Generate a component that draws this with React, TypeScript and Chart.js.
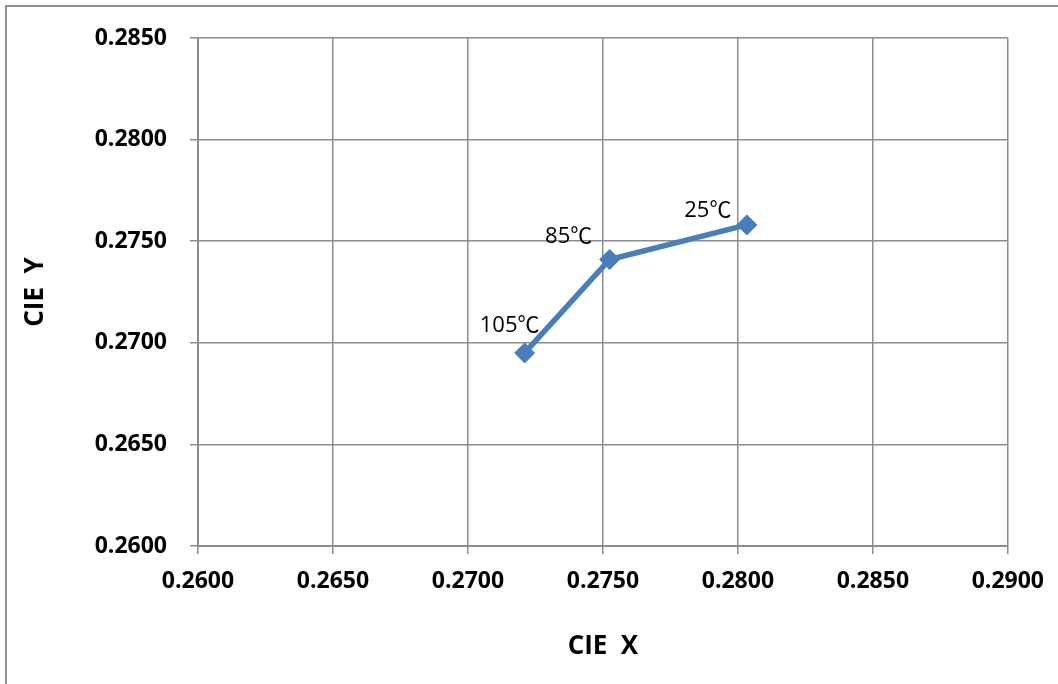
import React, { useEffect, useRef } from 'react';
import { Chart, registerables } from 'chart.js';

Chart.register(...registerables);

// ---- data ----
const TEMPERATURE_LABELS: string[] = ['105℃', '85℃', '25℃'];
const CIE_X_VALUES: number[] = [0.2721, 0.27525, 0.28033];
const CIE_Y_VALUES: number[] = [0.2695, 0.2741, 0.2758];
const X_TICKS: number[] = [0.26, 0.265, 0.27, 0.275, 0.28, 0.285, 0.29];
const Y_TICKS: number[] = [0.26, 0.265, 0.27, 0.275, 0.28, 0.285];
const X_TITLE = 'CIE  X';
const Y_TITLE = 'CIE  Y';

// label placement relative to each point (styling, in px)
const LABEL_OFFSETS: [number, number][] = [[-15, -27], [-41, -23], [-39, -14]];

const BLUE = '#4a7ebb';
const GRID = '#8c8c8c';
const FONT = '"Open Sans", "Noto Sans CJK SC", sans-serif';

const framePlugin = {
  id: 'frame',
  beforeDraw(chart: any) {
    const { ctx, width, height } = chart;
    ctx.save();
    ctx.fillStyle = '#ffffff';
    ctx.fillRect(0, 0, width, height);
    ctx.strokeStyle = '#8e8e8e';
    ctx.lineWidth = 2;
    ctx.beginPath();
    ctx.moveTo(6, height);
    ctx.lineTo(6, 6);
    ctx.lineTo(width, 6);
    ctx.stroke();
    ctx.restore();
  },
};

const labelPlugin = {
  id: 'pointLabels',
  afterDatasetsDraw(chart: any) {
    const { ctx } = chart;
    const meta = chart.getDatasetMeta(0);
    ctx.save();
    ctx.font = `22px ${FONT}`;
    ctx.fillStyle = '#000000';
    ctx.textAlign = 'center';
    ctx.textBaseline = 'middle';
    meta.data.forEach((pt: any, i: number) => {
      const [dx, dy] = LABEL_OFFSETS[i];
      ctx.fillText(TEMPERATURE_LABELS[i], pt.x + dx, pt.y + dy);
    });
    ctx.restore();
  },
};

export default function App() {
  const ref = useRef<HTMLCanvasElement | null>(null);

  useEffect(() => {
    document.body.style.margin = '0';
    const canvas = ref.current;
    if (!canvas) return;
    const chart = new Chart(canvas, {
      type: 'scatter',
      data: {
        datasets: [
          {
            label: 'CIE',
            data: CIE_X_VALUES.map((x, i) => ({ x, y: CIE_Y_VALUES[i] })),
            showLine: true,
            borderColor: BLUE,
            backgroundColor: BLUE,
            borderWidth: 5.5,
            pointStyle: 'rectRot',
            pointRadius: 10,
            pointBorderWidth: 1,
            pointBorderColor: BLUE,
            pointBackgroundColor: BLUE,
          },
        ],
      },
      options: {
        animation: false,
        responsive: true,
        maintainAspectRatio: false,
        layout: { padding: { left: 0, top: 38, right: 50, bottom: 0 } },
        plugins: {
          legend: { display: false },
          tooltip: { enabled: false },
        },
        scales: {
          x: {
            type: 'linear',
            min: X_TICKS[0],
            max: X_TICKS[X_TICKS.length - 1],
            afterBuildTicks: (scale: any) => {
              scale.ticks = X_TICKS.map((v) => ({ value: v }));
            },
            afterFit: (scale: any) => {
              scale.height = 138;
            },
            ticks: {
              color: '#000000',
              padding: 14,
              maxRotation: 0,
              font: { family: FONT, size: 23, weight: 'bold' },
              callback: (v: any) => Number(v).toFixed(4),
            },
            grid: { color: GRID, lineWidth: 1.5, tickLength: 8, tickColor: GRID },
            border: { color: GRID, width: 2 },
            title: {
              display: true,
              text: X_TITLE,
              color: '#000000',
              font: { family: FONT, size: 26, weight: 'bold' },
              padding: { top: 0, bottom: 22 },
            },
          },
          y: {
            type: 'linear',
            min: Y_TICKS[0],
            max: Y_TICKS[Y_TICKS.length - 1],
            afterBuildTicks: (scale: any) => {
              scale.ticks = Y_TICKS.map((v) => ({ value: v }));
            },
            afterFit: (scale: any) => {
              scale.width = 198;
            },
            ticks: {
              color: '#000000',
              padding: 23,
              font: { family: FONT, size: 23, weight: 'bold' },
              callback: (v: any) => Number(v).toFixed(4),
            },
            grid: { color: GRID, lineWidth: 1.5, tickLength: 8, tickColor: GRID },
            border: { color: GRID, width: 2 },
            title: {
              display: true,
              text: Y_TITLE,
              color: '#000000',
              font: { family: FONT, size: 26, weight: 'bold' },
              padding: { top: 20, bottom: 0 },
            },
          },
        },
      } as any,
      plugins: [framePlugin, labelPlugin],
    });
    return () => chart.destroy();
  }, []);

  return (
    <div style={{ position: 'fixed', left: 0, top: 0, width: 1058, height: 684 }}>
      <canvas ref={ref} />
    </div>
  );
}
